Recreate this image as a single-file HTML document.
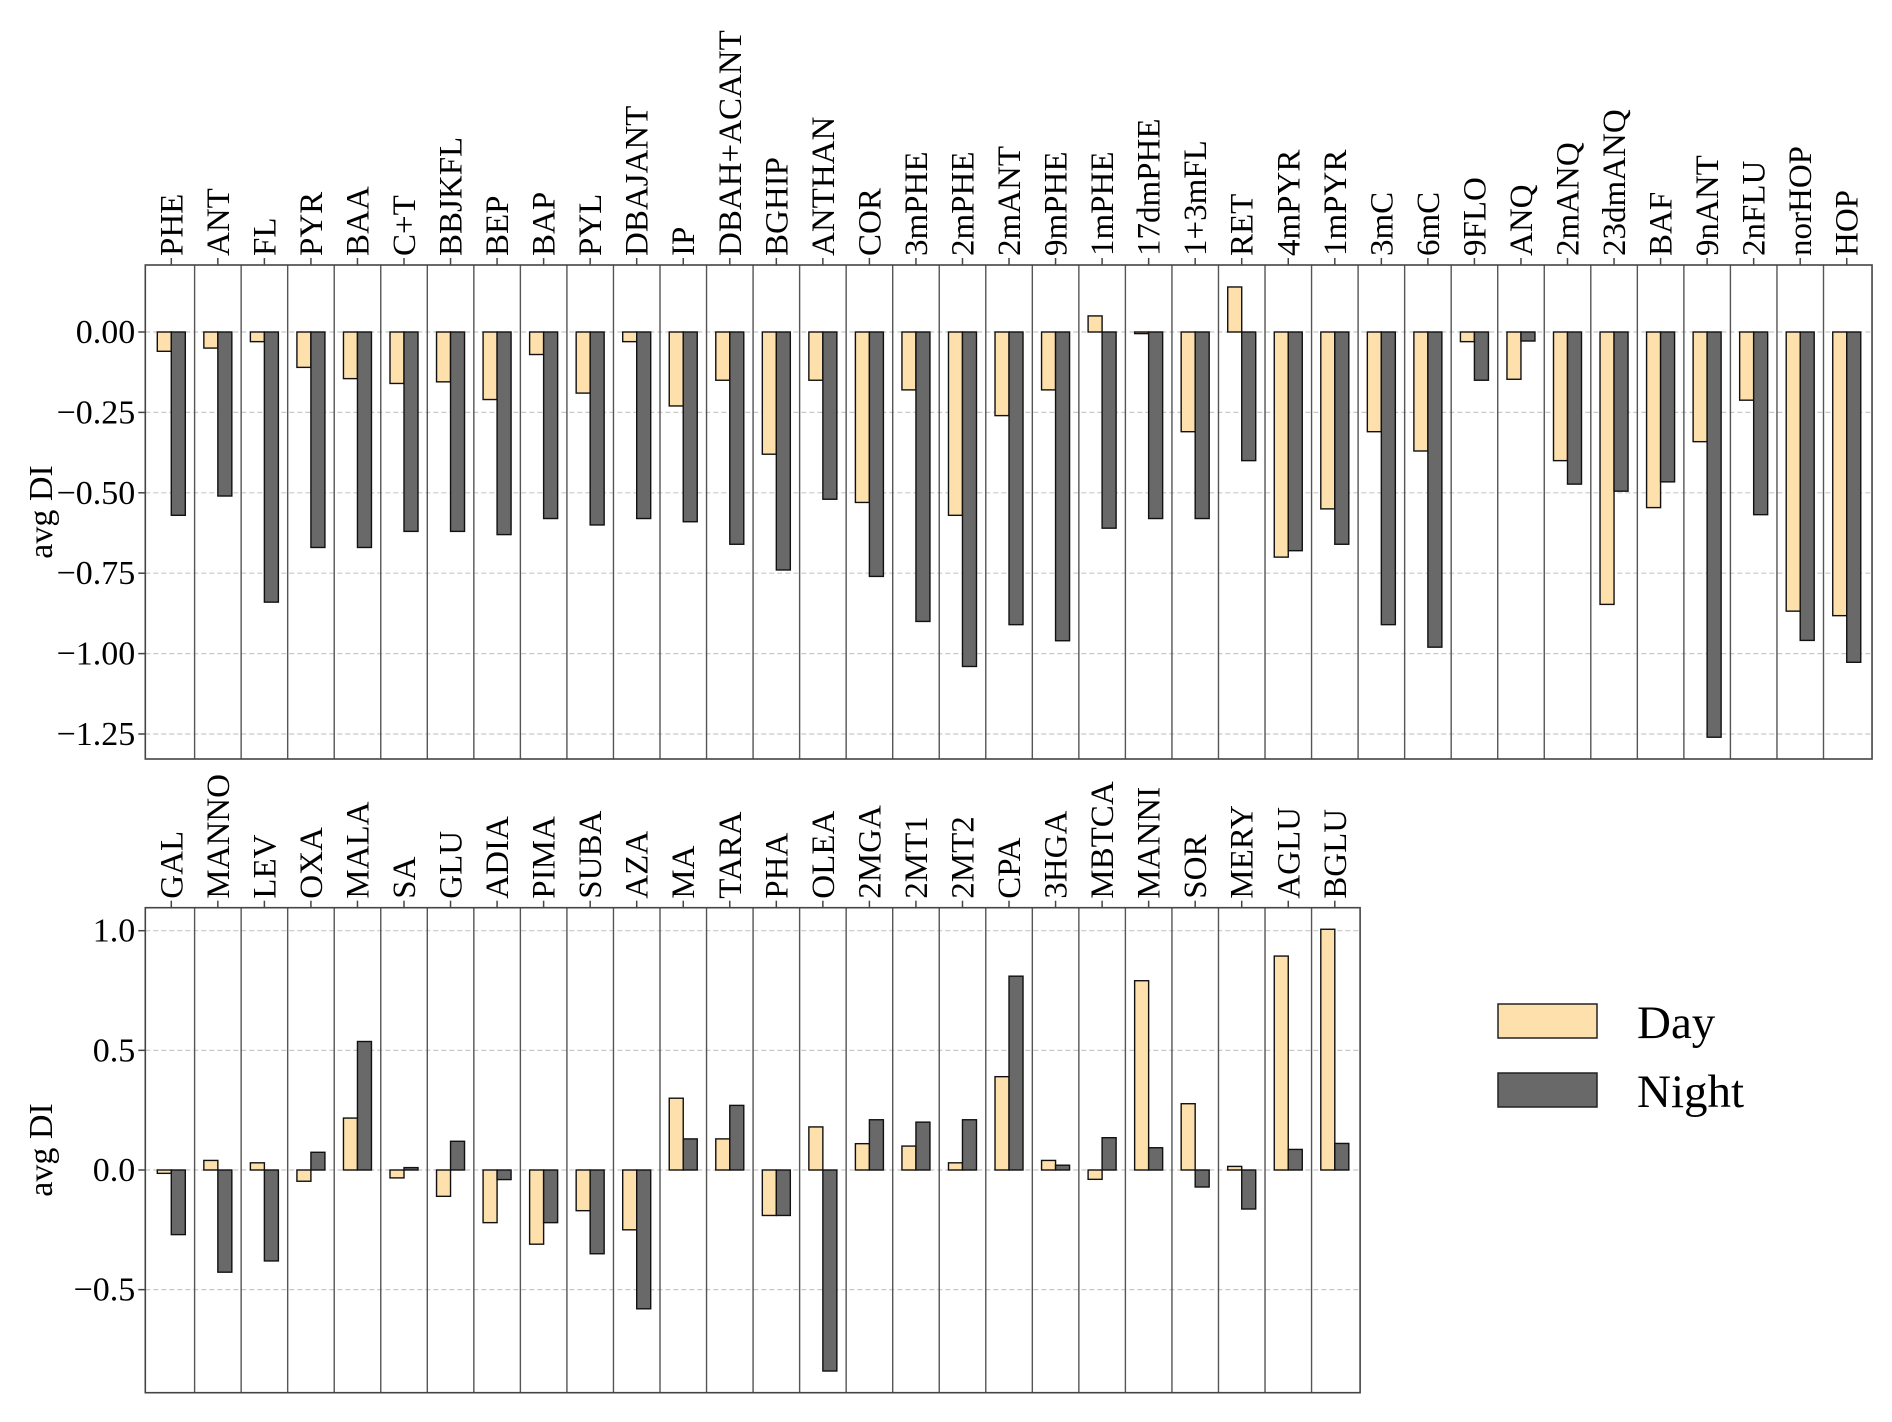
<!DOCTYPE html>
<html><head><meta charset="utf-8"><style>
html,body{margin:0;padding:0;background:#fff;}
svg{display:block;font-family:"Liberation Serif",serif;}
svg text{font-family:"Liberation Serif",serif;}
</style></head><body>
<svg id="chart" width="1892" height="1422" viewBox="0 0 1892 1422" xmlns="http://www.w3.org/2000/svg" font-family="Liberation Serif, serif"></svg>
<script>
const topCategories = ["PHE","ANT","FL","PYR","BAA","C+T","BBJKFL","BEP","BAP","PYL","DBAJANT","IP","DBAH+ACANT","BGHIP","ANTHAN","COR","3mPHE","2mPHE","2mANT","9mPHE","1mPHE","17dmPHE","1+3mFL","RET","4mPYR","1mPYR","3mC","6mC","9FLO","ANQ","2mANQ","23dmANQ","BAF","9nANT","2nFLU","norHOP","HOP"];
const topDay = [-0.06,-0.05,-0.03,-0.11,-0.145,-0.16,-0.155,-0.21,-0.07,-0.19,-0.03,-0.23,-0.15,-0.38,-0.15,-0.53,-0.18,-0.57,-0.26,-0.18,0.05,-0.005,-0.31,0.14,-0.70,-0.55,-0.31,-0.37,-0.03,-0.147,-0.40,-0.847,-0.546,-0.341,-0.212,-0.868,-0.882];
const topNight = [-0.57,-0.51,-0.84,-0.67,-0.67,-0.62,-0.62,-0.63,-0.58,-0.60,-0.58,-0.59,-0.66,-0.74,-0.52,-0.76,-0.90,-1.04,-0.91,-0.96,-0.61,-0.58,-0.58,-0.40,-0.68,-0.66,-0.91,-0.98,-0.15,-0.028,-0.473,-0.495,-0.466,-1.26,-0.568,-0.959,-1.027];
const topTicks = [0.00,-0.25,-0.50,-0.75,-1.00,-1.25];
const topTickLabels = ["0.00","\u22120.25","\u22120.50","\u22120.75","\u22121.00","\u22121.25"];

const botCategories = ["GAL","MANNO","LEV","OXA","MALA","SA","GLU","ADIA","PIMA","SUBA","AZA","MA","TARA","PHA","OLEA","2MGA","2MT1","2MT2","CPA","3HGA","MBTCA","MANNI","SOR","MERY","AGLU","BGLU"];
const botDay = [-0.014,0.04,0.03,-0.047,0.217,-0.033,-0.11,-0.22,-0.31,-0.17,-0.25,0.30,0.13,-0.19,0.18,0.11,0.10,0.03,0.39,0.04,-0.039,0.791,0.277,0.015,0.894,1.006];
const botNight = [-0.27,-0.427,-0.38,0.074,0.537,0.01,0.12,-0.04,-0.22,-0.35,-0.58,0.13,0.27,-0.19,-0.84,0.21,0.20,0.21,0.81,0.02,0.135,0.093,-0.071,-0.163,0.086,0.111];
const botTicks = [1.0,0.5,0.0,-0.5];
const botTickLabels = ["1.0","0.5","0.0","\u22120.5"];

const NS="http://www.w3.org/2000/svg";
const svg=document.getElementById('chart');
const FF='Liberation Serif, serif';
function mk(tag,attrs,parent){const e=document.createElementNS(NS,tag);for(const k in attrs)e.setAttribute(k,attrs[k]);if(tag==='text')e.setAttribute('font-family',FF);(parent||svg).appendChild(e);return e;}

function panel(cfg){
  const g=mk('g',{});
  
  
  const step=46.54, c0=171.3;
  const xc=i=>c0+i*step;
  const y=v=>cfg.y0+(-v)*cfg.scale;
  const left=145.3, right=xc(cfg.cats.length-1)+25.3;
  cfg.ticks.forEach((t,i)=>{
    const gl=mk('line',{x1:left,x2:right,y1:y(t),y2:y(t),stroke:'#c8c8c8','stroke-width':1.2,'stroke-dasharray':'5,3'},g);
    
    
    const tk=mk('line',{x1:left-7,x2:left,y1:y(t),y2:y(t),stroke:'#444','stroke-width':1.5},g);
    
    
    const tl=mk('text',{x:left-10,y:y(t)+11,'text-anchor':'end','font-size':34,fill:'#000'},g);
    tl.textContent=cfg.tickLabels[i];
    
    
  });
  for(let i=0;i<cfg.cats.length-1;i++){
    const s=mk('line',{x1:xc(i)+23.3,x2:xc(i)+23.3,y1:cfg.top,y2:cfg.bottom,stroke:'#555','stroke-width':1.4},g);
    
    
  }
  cfg.cats.forEach((c,i)=>{
    const x=xc(i);
    const d=cfg.day[i], n=cfg.night[i];
    const b1=mk('rect',{x:x-14,width:14,y:Math.min(y(0),y(d)),height:Math.abs(y(d)-y(0)),fill:'#fde0ac',stroke:'#111','stroke-width':1.4},g);
    
    
    const b2=mk('rect',{x:x,width:14,y:Math.min(y(0),y(n)),height:Math.abs(y(n)-y(0)),fill:'#696969',stroke:'#111','stroke-width':1.4},g);
    
    
    const tk=mk('line',{x1:x,x2:x,y1:cfg.top-7,y2:cfg.top,stroke:'#444','stroke-width':1.5},g);
    
    
    const t=mk('text',{x:0,y:0,transform:`translate(${x+11},${cfg.top-9}) rotate(-90)`,'font-size':33,fill:'#000'},g);
    t.textContent=c;
    
    
  });
  const fr=mk('rect',{x:left,y:cfg.top,width:right-left,height:cfg.bottom-cfg.top,fill:'none',stroke:'#444','stroke-width':1.6},g);
  
  
  const yl=mk('text',{x:0,y:0,transform:`translate(52,${cfg.labelY}) rotate(-90)`,'text-anchor':'middle','font-size':34,fill:'#000'},g);
  yl.textContent='avg DI';
  
  
}
panel({name:'top-panel-pah',cats:topCategories,day:topDay,night:topNight,ticks:topTicks,tickLabels:topTickLabels,y0:332,scale:321.6,top:265,bottom:759,labelY:512});
panel({name:'bottom-panel-sugars-acids',cats:botCategories,day:botDay,night:botNight,ticks:botTicks,tickLabels:botTickLabels,y0:1170,scale:239.3,top:907.7,bottom:1392.7,labelY:1150});

const lg=mk('g',{});


const l1=mk('rect',{x:1498,y:1004,width:99,height:34,fill:'#fde0ac',stroke:'#222','stroke-width':1.5},lg);


const t1=mk('text',{x:1637,y:1038,'font-size':47,fill:'#000'},lg);
t1.textContent='Day';


const l2=mk('rect',{x:1498,y:1073,width:99,height:34,fill:'#696969',stroke:'#222','stroke-width':1.5},lg);


const t2=mk('text',{x:1637,y:1107,'font-size':47,fill:'#000'},lg);
t2.textContent='Night';


</script>
</body></html>
